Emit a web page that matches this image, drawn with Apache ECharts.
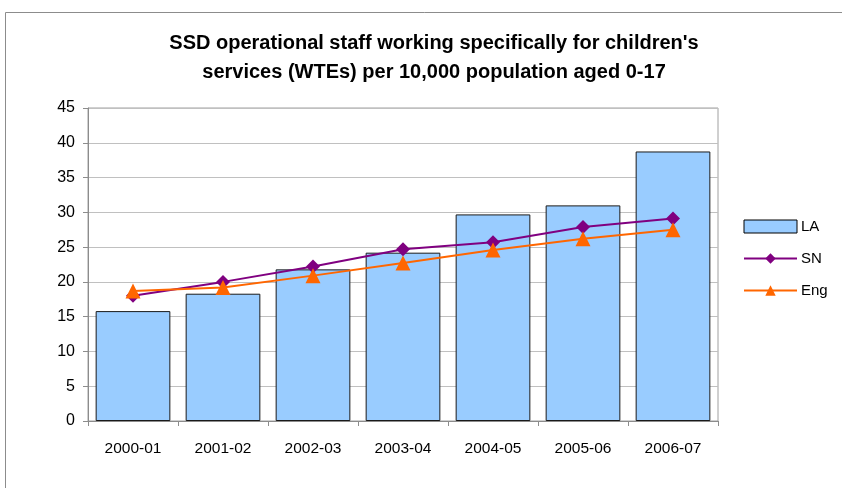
<!DOCTYPE html>
<html><head><meta charset="utf-8">
<script src="https://cdn.jsdelivr.net/npm/echarts@6/dist/echarts.min.js"></script>
<style>html,body{margin:0;padding:0;background:#fff}#c{width:842px;height:488px}</style>
</head><body><div id="c"></div>
<script>
const categories = ['2000-01','2001-02','2002-03','2003-04','2004-05','2005-06','2006-07'];
const laValues = [15.8, 18.3, 21.8, 24.2, 29.7, 31.0, 38.75];
const snValues = [18.0, 20.0, 22.2, 24.7, 25.7, 27.9, 29.1];
const engValues = [18.7, 19.2, 20.9, 22.7, 24.6, 26.2, 27.5];
const titleText = "SSD operational staff working specifically for children's\nservices (WTEs) per 10,000 population aged 0-17";

const chart = echarts.init(document.getElementById('c'), null, {renderer:'canvas'});
const font = 'Liberation Sans, Arial, sans-serif';
chart.setOption({
  animation:false,
  backgroundColor:'#fff',
  graphic:[{type:'rect', shape:{x:5.5,y:12.5,width:900,height:600}, style:{fill:'none', stroke:'#8c8c8c', lineWidth:1}, z:-1}],
  title:{text:titleText, left:429, textAlign:'center', top:24,
    textStyle:{fontFamily:font, fontSize:20, fontWeight:'bold', color:'#000', lineHeight:29}},
  grid:{left:88, right:124, top:108, bottom:67, show:true, borderColor:'#a0a0a0', borderWidth:1},
  legend:{orient:'vertical', left:738, top:214, itemWidth:53, itemHeight:13, itemGap:17,
    lineStyle:{width:2},
    textStyle:{fontFamily:font, fontSize:15, color:'#000', padding:[0,0,0,-1]},
    data:[{name:'LA', icon:'rect', itemStyle:{borderWidth:1, borderColor:'#000'}},{name:'SN'},{name:'Eng'}]},
  xAxis:{type:'category', data:categories, boundaryGap:true,
    axisLine:{lineStyle:{color:'#8c8c8c'}},
    axisTick:{show:true, length:5, lineStyle:{color:'#8c8c8c'}},
    axisLabel:{fontFamily:font, fontSize:15.5, color:'#000', margin:20}},
  yAxis:{type:'value', min:0, max:45, interval:5,
    axisLine:{show:true, lineStyle:{color:'#8c8c8c'}},
    axisTick:{show:true, length:5, lineStyle:{color:'#8c8c8c'}},
    splitLine:{lineStyle:{color:'#c0c0c0'}},
    axisLabel:{fontFamily:font, fontSize:16, color:'#000', margin:13}},
  series:[
    {name:'LA', type:'bar', data:laValues, barCategoryGap:'17%',
      itemStyle:{color:'#99ccff', borderColor:'#1a1a1a', borderWidth:1}},
    {name:'SN', type:'line', data:snValues, symbol:'diamond', symbolSize:14,
      lineStyle:{color:'#800080', width:2}, itemStyle:{color:'#800080'}, z:3},
    {name:'Eng', type:'line', data:engValues, symbol:'triangle', symbolSize:15,
      lineStyle:{color:'#ff6600', width:2}, itemStyle:{color:'#ff6600'}, z:4}
  ]
});
</script></body></html>
